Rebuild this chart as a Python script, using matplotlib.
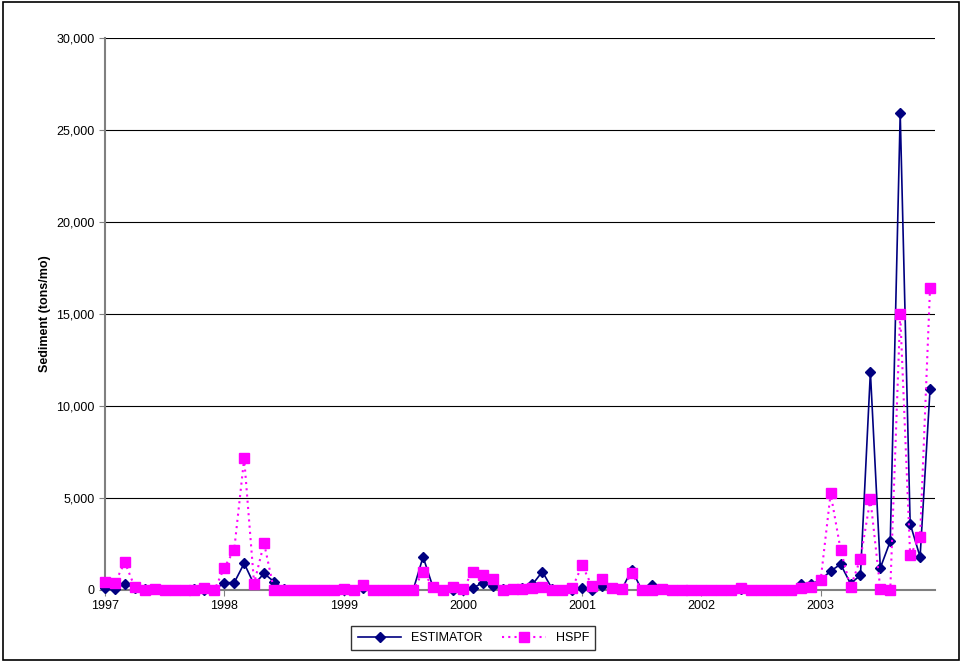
import matplotlib.pyplot as plt
import numpy as np
from matplotlib.ticker import FuncFormatter

YEARS = [1997, 1998, 1999, 2000, 2001, 2002, 2003]

ESTIMATOR = [
    100, 50, 350, 100, 50, 50, 0, 0, 0, 50, 0, 0,
    400, 400, 1450, 300, 900, 450, 50, 0, 0, 0, 0, 0,
    0, 0, 100, 0, 0, 0, 0, 0, 1800, 150, 0, 0,
    0, 100, 400, 200, 50, 50, 100, 300, 1000, 50, 0, 0,
    100, 0, 200, 100, 50, 1100, 0, 250, 50, 0, 0, 0,
    0, 0, 0, 0, 50, 0, 0, 0, 0, 0, 300, 300,
    550, 1030, 1400, 350, 800, 11850, 1200, 2650, 25900, 3600, 1800, 10900,
]
HSPF = [
    450, 400, 1500, 150, 0, 50, 0, 0, 0, 0, 100, 0,
    1200, 2200, 7150, 350, 2550, 0, 0, 0, 0, 0, 0, 0,
    50, 0, 250, 0, 0, 0, 0, 0, 1000, 150, 0, 150,
    50, 1000, 800, 600, 0, 50, 50, 100, 150, 0, 0, 100,
    1350, 200, 600, 100, 50, 900, 0, 0, 50, 0, 0, 0,
    0, 0, 0, 0, 100, 0, 0, 0, 0, 0, 100, 150,
    550, 5250, 2200, 150, 1700, 4950, 50, 0, 15000, 1900, 2900, 16400,
]

x = np.arange(len(ESTIMATOR))

fig = plt.figure(figsize=(9.62, 6.62), dpi=100)
ax = fig.add_axes([105 / 962, 72 / 662, 830 / 962, 552 / 662])
fig.patches.append(plt.Rectangle((0.003, 0.003), 0.994, 0.994, transform=fig.transFigure,
                                 fill=False, edgecolor="black", linewidth=1.2))

ax.plot(x, ESTIMATOR, color="#000080", marker="D", markersize=5, linewidth=1.2,
        label="ESTIMATOR", clip_on=False, zorder=3)
ax.plot(x, HSPF, color="#FF00FF", marker="s", markersize=7, linewidth=1.5,
        linestyle=(0, (1, 2)), label="HSPF", clip_on=False, zorder=4)

ax.set_xlim(0, 83.5)
ax.set_ylim(0, 30000)
ax.set_xticks([12 * i for i in range(len(YEARS))])
ax.set_xticklabels([str(y) for y in YEARS], fontsize=9, fontfamily="Liberation Sans")
ax.set_yticks(range(0, 30001, 5000))
ax.yaxis.set_major_formatter(FuncFormatter(lambda v, p: f"{int(v):,}"))
for lab in ax.get_yticklabels():
    lab.set_fontsize(9)
    lab.set_fontfamily("Liberation Sans")
ax.set_ylabel("Sediment (tons/mo)", fontsize=9, fontweight="bold", fontfamily="Liberation Sans")
ax.grid(axis="y", color="black", linewidth=0.8)
ax.set_axisbelow(True)
for s in ["top", "right"]:
    ax.spines[s].set_visible(False)
ax.spines["left"].set_color("gray")
ax.spines["bottom"].set_color("gray")
ax.spines["left"].set_linewidth(1.5)
ax.spines["bottom"].set_linewidth(1.5)
ax.tick_params(direction="out", length=4, colors="black", color="gray")

leg = fig.legend(loc="lower center", bbox_to_anchor=(0.492, 0.008), ncol=2, frameon=True,
                 fancybox=False, edgecolor="black", handlelength=3.5, columnspacing=1.5,
                 borderpad=0.5, prop={"family": "Liberation Sans", "size": 9})

fig.savefig("out.png", dpi=100)
